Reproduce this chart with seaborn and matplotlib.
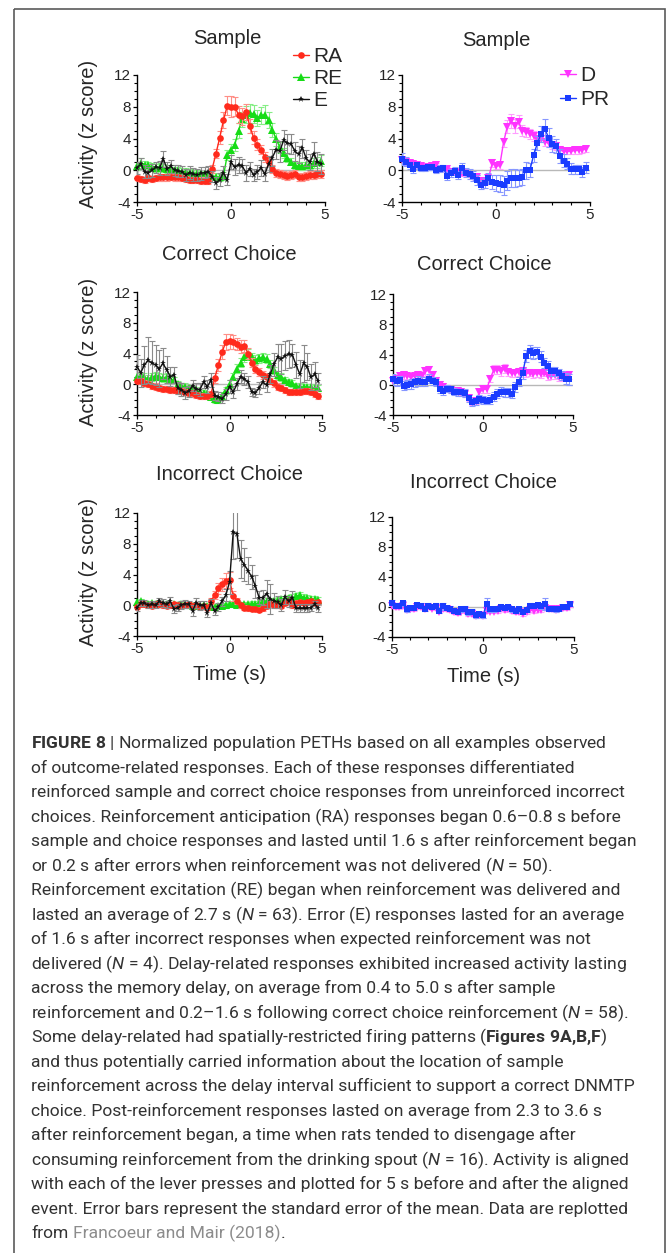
import numpy as np
import matplotlib
matplotlib.use("Agg")
import matplotlib.pyplot as plt
from matplotlib import font_manager
from matplotlib.lines import Line2D
from matplotlib.patches import Rectangle
from matplotlib.ticker import MultipleLocator
from matplotlib.transforms import Affine2D
import seaborn as sns

# ---------------------------------------------------------------- data
time_s = [-5.0, -4.8, -4.6, -4.4, -4.2, -4.0, -3.8, -3.6, -3.4, -3.2,
          -3.0, -2.8, -2.6, -2.4, -2.2, -2.0, -1.8, -1.6, -1.4, -1.2,
          -1.0, -0.8, -0.6, -0.4, -0.2, 0.0, 0.2, 0.4, 0.6, 0.8,
          1.0, 1.2, 1.4, 1.6, 1.8, 2.0, 2.2, 2.4, 2.6, 2.8,
          3.0, 3.2, 3.4, 3.6, 3.8, 4.0, 4.2, 4.4, 4.6, 4.8]

# Sample lever press -- outcome-related populations
sample_ra_mean = [-1.0, -1.1, -1.2, -1.0, -1.1, -1.0, -0.9, -0.9, -0.9, -0.8,
                  -0.9, -0.9, -1.0, -1.1, -1.2, -1.2, -1.2, -1.3, -1.3, -1.3,
                  0.2, 2.1, 4.1, 6.3, 8.1, 8.0, 8.0, 7.0, 6.8, 7.3,
                  5.6, 4.1, 3.2, 2.6, 1.7, 1.0, 0.2, -0.4, -0.5, -0.6,
                  -0.7, -0.6, -0.5, -0.9, -0.8, -0.7, -0.6, -0.6, -0.5, -0.5]
sample_ra_sem = [0.4, 0.4, 0.4, 0.4, 0.4, 0.4, 0.4, 0.4, 0.4, 0.4,
                 0.4, 0.4, 0.4, 0.4, 0.4, 0.4, 0.4, 0.4, 0.4, 0.4,
                 0.5, 0.6, 0.8, 1.0, 1.2, 1.3, 1.2, 1.1, 1.1, 1.0,
                 0.9, 0.8, 0.7, 0.6, 0.6, 0.5, 0.5, 0.5, 0.5, 0.5,
                 0.5, 0.5, 0.5, 0.5, 0.5, 0.5, 0.5, 0.5, 0.5, 0.5]
sample_re_mean = [0.5, 0.9, 0.7, 0.6, 0.4, 0.3, 0.4, 0.3, 0.2, 0.1,
                  0.0, 0.0, -0.2, -0.2, -0.3, -0.4, -0.4, -0.5, -0.5, -0.6,
                  -0.7, -0.8, -0.9, -0.7, 1.9, 2.6, 3.2, 5.0, 6.4, 7.0,
                  7.2, 7.1, 6.6, 6.9, 7.0, 6.3, 5.1, 3.9, 2.9, 2.2,
                  1.6, 1.1, 0.6, 0.5, 0.5, 0.6, 0.7, 0.9, 1.0, 1.2]
sample_re_sem = [0.5, 0.6, 0.5, 0.5, 0.5, 0.5, 0.5, 0.5, 0.5, 0.5,
                 0.45, 0.45, 0.45, 0.45, 0.45, 0.45, 0.45, 0.45, 0.45, 0.45,
                 0.4, 0.4, 0.4, 0.5, 0.6, 0.7, 0.8, 0.9, 1.0, 1.1,
                 1.2, 1.1, 1.0, 1.1, 1.2, 1.0, 0.9, 0.8, 0.7, 0.6,
                 0.6, 0.5, 0.5, 0.5, 0.5, 0.5, 0.5, 0.6, 0.7, 0.7]
sample_e_mean = [0.3, 0.8, -0.2, -0.3, 0.0, 0.4, 0.3, 1.4, 0.2, 0.5,
                 0.0, -0.1, -0.2, -0.6, -0.3, -0.5, -0.6, -0.4, -0.3, -0.2,
                 -0.8, -1.6, -1.2, -0.3, -1.2, 1.0, 0.4, 0.7, 0.5, -0.3,
                 0.2, -0.6, -0.2, 0.3, -0.5, 0.8, 1.6, 2.6, 2.4, 3.8,
                 3.4, 3.3, 2.4, 2.0, 2.8, 1.5, 1.0, 2.1, 1.1, 0.8]
sample_e_sem = [0.8, 0.7, 0.8, 0.7, 0.8, 0.7, 0.9, 1.0, 0.8, 0.8,
                0.7, 0.8, 0.7, 0.8, 0.8, 0.8, 0.7, 0.8, 0.7, 0.7,
                0.7, 0.8, 0.8, 0.8, 0.7, 0.9, 1.0, 1.0, 0.9, 1.0,
                0.9, 0.8, 0.9, 1.0, 0.9, 1.0, 1.1, 1.2, 1.3, 1.3,
                1.2, 1.3, 1.2, 1.1, 1.2, 1.0, 1.0, 1.5, 1.2, 1.3]

# Sample lever press -- delay and post-reinforcement populations
sample_d_mean = [1.3, 1.0, 0.9, 0.8, 0.7, 0.5, 0.3, 0.4, 0.5, 0.6,
                 0.2, 0.2, 0.1, -0.2, -0.2, -0.3, -0.4, -0.4, -0.6, -0.8,
                 -0.9, -1.3, -1.4, -1.0, 0.9, 0.5, 0.6, 3.5, 5.5, 6.2,
                 5.6, 6.1, 5.0, 4.8, 4.6, 4.3, 4.0, 4.0, 3.6, 3.4,
                 3.2, 3.0, 2.6, 2.4, 2.4, 2.4, 2.5, 2.5, 2.6, 2.7]
sample_d_sem = [0.5, 0.4, 0.4, 0.4, 0.4, 0.3, 0.3, 0.3, 0.3, 0.3,
                0.3, 0.3, 0.3, 0.3, 0.3, 0.3, 0.3, 0.3, 0.3, 0.3,
                0.3, 0.4, 0.4, 0.4, 0.5, 0.4, 0.4, 0.6, 0.8, 0.9,
                0.9, 0.8, 0.7, 0.6, 0.6, 0.6, 0.5, 0.5, 0.5, 0.5,
                0.5, 0.5, 0.5, 0.4, 0.4, 0.4, 0.4, 0.4, 0.4, 0.4]
sample_pr_mean = [1.4, 1.1, 0.6, 0.2, 0.6, 0.3, 0.3, 0.4, 0.4, 0.0,
                  0.2, 0.3, -0.7, -0.3, -0.1, -0.6, 0.3, -0.3, -0.5, -0.7,
                  -1.2, -1.8, -1.6, -1.0, -1.5, -1.6, -1.7, -1.9, -1.3, -1.0,
                  -1.0, -1.0, -0.9, 0.0, 0.0, 1.9, 3.4, 4.6, 5.2, 4.1,
                  3.3, 3.1, 1.8, 1.2, 0.8, 0.2, 0.1, 0.1, -0.2, 0.3]
sample_pr_sem = [0.8, 0.6, 0.5, 0.5, 0.5, 0.4, 0.4, 0.4, 0.4, 0.4,
                 0.4, 0.4, 0.5, 0.5, 0.5, 0.5, 0.6, 0.6, 0.6, 0.6,
                 0.6, 0.6, 0.6, 0.7, 0.9, 1.0, 1.1, 1.2, 1.2, 1.1,
                 1.1, 1.0, 1.0, 1.1, 0.9, 0.8, 0.9, 1.0, 1.2, 1.2,
                 1.0, 0.9, 0.9, 0.8, 0.7, 0.7, 0.6, 0.6, 0.6, 0.7]

# Correct choice lever press -- outcome-related populations
correct_ra_mean = [0.4, 0.4, 0.2, 0.0, -0.2, -0.3, -0.5, -0.6, -0.6, -0.7,
                   -0.8, -0.9, -0.9, -1.0, -1.1, -1.2, -1.4, -1.5, -1.5, -1.5,
                   -1.3, 0.8, 2.5, 4.2, 5.5, 5.6, 5.5, 5.2, 4.9, 5.0,
                   4.0, 2.8, 2.0, 1.6, 1.2, 0.9, 0.4, 0.1, -0.3, -0.5,
                   -0.8, -1.0, -1.0, -1.0, -1.0, -0.9, -0.9, -1.0, -1.3, -1.5]
correct_ra_sem = [0.4, 0.4, 0.4, 0.4, 0.4, 0.4, 0.4, 0.4, 0.4, 0.4,
                  0.4, 0.4, 0.4, 0.4, 0.4, 0.4, 0.4, 0.4, 0.4, 0.4,
                  0.4, 0.6, 0.8, 0.9, 1.0, 1.0, 0.9, 0.8, 0.8, 0.8,
                  0.7, 0.6, 0.5, 0.5, 0.5, 0.5, 0.4, 0.4, 0.4, 0.4,
                  0.4, 0.4, 0.4, 0.4, 0.4, 0.4, 0.4, 0.4, 0.4, 0.4]
correct_re_mean = [1.0, 1.0, 0.9, 0.7, 0.9, 1.1, 1.0, 0.8, 0.9, 0.7,
                   0.5, 0.0, -0.2, -0.3, -0.5, -0.6, -0.8, -1.1, -1.1, -1.3,
                   -1.6, -1.9, -2.0, -1.5, -0.8, 0.0, 1.0, 2.0, 2.8, 3.5,
                   4.0, 3.5, 3.2, 3.4, 3.5, 3.3, 2.6, 1.8, 1.2, 0.9,
                   0.6, 0.3, 0.1, -0.2, -0.3, -0.4, -0.4, -0.4, -0.5, -0.5]
correct_re_sem = [0.5, 0.5, 0.5, 0.5, 0.5, 0.5, 0.5, 0.5, 0.5, 0.5,
                  0.4, 0.4, 0.4, 0.4, 0.4, 0.4, 0.4, 0.4, 0.4, 0.4,
                  0.4, 0.5, 0.5, 0.5, 0.5, 0.5, 0.5, 0.6, 0.6, 0.6,
                  0.6, 0.6, 0.6, 0.6, 0.6, 0.6, 0.5, 0.5, 0.5, 0.5,
                  0.4, 0.4, 0.4, 0.4, 0.4, 0.4, 0.4, 0.4, 0.4, 0.4]
correct_e_mean = [2.3, 1.5, 2.5, 3.1, 2.8, 2.5, 2.0, 2.7, 1.9, 1.0,
                  1.2, -0.5, -0.7, -1.1, -0.9, -0.2, -0.6, -0.7, 0.3, -0.3,
                  0.5, -1.5, -1.6, -1.9, -1.3, -0.3, -1.0, 0.0, 1.0, 0.7,
                  0.3, -1.0, -1.1, -0.5, 0.3, -0.1, 1.3, 2.6, 3.5, 3.3,
                  3.7, 3.9, 3.8, 2.5, 1.3, 2.7, 2.3, 0.9, 1.3, 0.4]
correct_e_sem = [1.5, 1.8, 2.5, 3.0, 2.8, 2.6, 2.4, 2.0, 1.8, 1.2,
                 1.0, 0.8, 0.8, 0.8, 0.7, 0.7, 0.7, 0.8, 0.8, 0.8,
                 0.9, 0.6, 0.6, 0.6, 0.7, 0.8, 0.8, 0.8, 0.9, 0.8,
                 0.8, 0.5, 0.5, 0.8, 0.8, 0.9, 1.2, 1.5, 1.8, 2.0,
                 1.9, 1.8, 1.5, 1.7, 1.8, 2.4, 1.8, 1.7, 1.6, 1.1]

# Correct choice lever press -- delay and post-reinforcement populations
correct_d_mean = [0.5, 0.8, 1.1, 1.3, 1.1, 1.0, 1.2, 1.3, 1.2, 1.8,
                  1.9, 1.3, 0.5, 0.0, -0.3, -0.5, -0.7, -0.8, -0.8, -0.9,
                  -1.2, -1.8, -2.3, -2.2, -1.0, -0.6, -0.6, 0.8, 2.0, 2.0,
                  1.8, 2.1, 1.7, 1.5, 1.5, 1.7, 1.8, 1.5, 1.6, 1.4,
                  1.5, 1.4, 1.6, 1.1, 1.2, 1.3, 1.0, 1.0, 1.2, 1.3]
correct_d_sem = [0.5, 0.5, 0.5, 0.5, 0.5, 0.5, 0.5, 0.5, 0.6, 0.6,
                 0.6, 0.5, 0.5, 0.5, 0.5, 0.4, 0.4, 0.4, 0.4, 0.4,
                 0.4, 0.4, 0.4, 0.4, 0.5, 0.5, 0.5, 0.5, 0.6, 0.6,
                 0.6, 0.6, 0.5, 0.5, 0.5, 0.5, 0.5, 0.5, 0.5, 0.5,
                 0.5, 0.5, 0.5, 0.5, 0.5, 0.5, 0.5, 0.5, 0.5, 0.5]
correct_pr_mean = [0.7, 0.5, 0.6, -0.1, 0.0, 0.1, 0.3, 0.5, 0.4, 0.4,
                   0.8, 0.5, 0.3, -0.6, -0.8, -0.5, -0.6, -0.9, -1.0, -1.0,
                   -1.1, -1.8, -2.3, -2.2, -1.9, -2.0, -2.1, -2.0, -1.6, -1.2,
                   -0.9, -1.0, -1.0, -1.2, -0.3, 0.4, 1.5, 3.8, 4.4, 4.2,
                   4.3, 3.7, 2.9, 2.5, 1.8, 1.8, 1.5, 1.2, 0.8, 0.7]
correct_pr_sem = [0.7, 0.6, 0.6, 0.6, 0.6, 0.6, 0.6, 0.6, 0.6, 0.6,
                  0.6, 0.5, 0.5, 0.5, 0.5, 0.5, 0.5, 0.5, 0.5, 0.5,
                  0.5, 0.5, 0.5, 0.5, 0.5, 0.5, 0.5, 0.6, 0.6, 0.6,
                  0.6, 0.6, 0.6, 0.6, 0.6, 0.6, 0.7, 0.8, 0.8, 0.8,
                  0.7, 0.7, 0.7, 0.6, 0.6, 0.6, 0.6, 0.6, 0.7, 0.7]

# Incorrect choice lever press -- outcome-related populations
incorrect_ra_mean = [-0.2, 0.2, 0.1, 0.0, -0.1, 0.1, 0.2, 0.0, -0.1, 0.0,
                     0.1, 0.0, -0.1, 0.0, 0.1, -0.1, 0.0, -0.2, -0.1, -0.3,
                     0.6, 1.3, 2.2, 2.7, 3.2, 3.3, 1.2, 0.6, 0.0, -0.3,
                     -0.4, -0.5, -0.5, -0.6, -0.4, -0.1, 0.2, 0.0, 0.0, -0.1,
                     0.3, 0.5, 0.0, 0.3, 0.4, 0.3, 0.4, 0.5, 0.3, 0.4]
incorrect_ra_sem = [0.3, 0.3, 0.3, 0.3, 0.3, 0.3, 0.3, 0.3, 0.3, 0.3,
                    0.3, 0.3, 0.3, 0.3, 0.3, 0.3, 0.3, 0.3, 0.3, 0.3,
                    0.4, 0.5, 0.7, 0.9, 1.0, 1.0, 0.6, 0.4, 0.3, 0.3,
                    0.3, 0.3, 0.3, 0.3, 0.3, 0.3, 0.3, 0.3, 0.3, 0.3,
                    0.3, 0.3, 0.3, 0.3, 0.3, 0.3, 0.3, 0.3, 0.3, 0.3]
incorrect_re_mean = [0.4, 0.5, 0.3, 0.2, 0.3, 0.2, 0.2, 0.1, 0.2, 0.1,
                     0.1, 0.0, 0.1, 0.0, 0.0, -0.1, 0.0, -0.1, 0.0, -0.1,
                     -0.2, -0.2, -0.1, -0.1, 0.0, 0.1, 0.1, 0.0, 0.0, 0.1,
                     0.1, 0.2, 0.2, 0.3, 0.4, 0.5, 0.5, 0.6, 0.7, 0.8,
                     0.8, 0.9, 1.0, 1.2, 1.3, 1.0, 0.9, 0.8, 0.8, 0.7]
incorrect_re_sem = [0.3, 0.3, 0.3, 0.3, 0.3, 0.3, 0.3, 0.3, 0.3, 0.3,
                    0.3, 0.3, 0.3, 0.3, 0.3, 0.3, 0.3, 0.3, 0.3, 0.3,
                    0.3, 0.3, 0.3, 0.3, 0.3, 0.3, 0.3, 0.3, 0.3, 0.3,
                    0.3, 0.3, 0.3, 0.3, 0.3, 0.4, 0.4, 0.4, 0.4, 0.4,
                    0.4, 0.4, 0.4, 0.4, 0.4, 0.4, 0.4, 0.4, 0.4, 0.4]
incorrect_e_mean = [-0.3, 0.3, 0.3, 0.0, 0.1, 0.0, 0.5, 0.3, 0.1, 0.5,
                    -0.5, -0.3, 0.0, 0.2, 0.1, -0.7, 0.3, 0.0, 0.0, -1.0,
                    0.3, -0.8, -0.2, 0.5, 1.3, 3.0, 9.5, 9.3, 6.0, 5.3,
                    4.5, 3.7, 2.5, 1.0, 1.0, 1.5, 0.8, 0.6, 0.4, 0.0,
                    1.1, 0.5, 1.0, -0.4, -0.4, -0.4, -0.4, -0.3, 0.1, -0.4]
incorrect_e_sem = [0.4, 0.4, 0.4, 0.4, 0.4, 0.4, 0.5, 0.5, 0.4, 0.6,
                   0.5, 0.5, 0.5, 0.5, 0.5, 0.7, 0.6, 0.6, 0.5, 0.5,
                   0.5, 0.5, 0.5, 0.6, 0.8, 1.5, 3.5, 3.2, 2.5, 2.2,
                   1.8, 1.6, 1.5, 0.9, 1.0, 1.8, 2.0, 1.0, 0.8, 0.8,
                   0.9, 0.7, 0.8, 0.5, 0.5, 0.5, 0.5, 0.5, 0.5, 0.5]

# Incorrect choice lever press -- delay and post-reinforcement populations
incorrect_d_mean = [0.2, 0.0, 0.0, 0.2, -0.4, -0.3, -0.3, 0.0, 0.0, -0.3,
                    0.0, -0.2, -0.1, -0.6, -0.2, -0.3, -0.4, -0.7, -0.8, -0.6,
                    -0.5, -0.9, -0.9, -1.2, -1.1, -1.2, -0.5, -0.6, -0.6, -0.5,
                    -0.3, -0.4, -0.3, -0.5, -0.7, -0.6, -0.9, -0.7, -0.4, -0.5,
                    -0.4, -0.4, -0.1, -0.3, -0.3, -0.4, -0.2, -0.1, -0.1, 0.3]
incorrect_d_sem = [0.3, 0.25, 0.25, 0.25, 0.25, 0.25, 0.25, 0.25, 0.25, 0.25,
                   0.25, 0.25, 0.25, 0.25, 0.3, 0.25, 0.25, 0.25, 0.25, 0.25,
                   0.25, 0.25, 0.25, 0.25, 0.25, 0.25, 0.3, 0.25, 0.25, 0.25,
                   0.25, 0.25, 0.25, 0.25, 0.25, 0.25, 0.25, 0.25, 0.25, 0.25,
                   0.25, 0.25, 0.3, 0.25, 0.25, 0.25, 0.25, 0.25, 0.25, 0.25]
incorrect_pr_mean = [0.5, 0.2, 0.2, 0.5, -0.3, -0.1, -0.1, 0.3, 0.2, -0.2,
                     0.2, 0.0, 0.2, -0.5, 0.1, -0.1, -0.2, -0.5, -0.6, -0.3,
                     -0.2, -0.7, -0.6, -1.1, -0.9, -1.1, 0.4, -0.3, -0.3, -0.2,
                     0.0, -0.1, 0.0, -0.3, -0.5, -0.3, -0.6, -0.4, 0.2, 0.2,
                     0.3, 0.1, 0.4, -0.2, -0.2, -0.3, -0.2, 0.0, 0.0, 0.4]
incorrect_pr_sem = [0.5, 0.3, 0.3, 0.3, 0.3, 0.3, 0.3, 0.3, 0.3, 0.3,
                    0.3, 0.3, 0.3, 0.3, 0.5, 0.3, 0.3, 0.3, 0.3, 0.3,
                    0.3, 0.3, 0.3, 0.3, 0.3, 0.3, 0.8, 0.3, 0.3, 0.3,
                    0.3, 0.3, 0.3, 0.3, 0.3, 0.3, 0.3, 0.3, 0.3, 0.3,
                    0.3, 0.3, 0.8, 0.3, 0.3, 0.3, 0.3, 0.3, 0.3, 0.3]

panel_titles = ["Sample", "Sample", "Correct Choice", "Correct Choice",
                "Incorrect Choice", "Incorrect Choice"]
y_label = "Activity (z score)"
x_label = "Time (s)"
x_ticks = [-5, 0, 5]
y_ticks = [-4, 0, 4, 8, 12]

EN_DASH = "\u2013"
ITAL_N = r"$\mathit{N}$"
caption_lines = [
    r"$\mathbf{FIGURE\ 8}$ | Normalized population PETHs based on all examples observed",
    "of outcome-related responses. Each of these responses differentiated",
    "reinforced sample and correct choice responses from unreinforced incorrect",
    "choices. Reinforcement anticipation (RA) responses began 0.6" + EN_DASH + "0.8 s before",
    "sample and choice responses and lasted until 1.6 s after reinforcement began",
    "or 0.2 s after errors when reinforcement was not delivered (" + ITAL_N + " = 50).",
    "Reinforcement excitation (RE) began when reinforcement was delivered and",
    "lasted an average of 2.7 s (" + ITAL_N + " = 63). Error (E) responses lasted for an average",
    "of 1.6 s after incorrect responses when expected reinforcement was not",
    "delivered (" + ITAL_N + " = 4). Delay-related responses exhibited increased activity lasting",
    "across the memory delay, on average from 0.4 to 5.0 s after sample",
    "reinforcement and 0.2" + EN_DASH + "1.6 s following correct choice reinforcement (" + ITAL_N + " = 58).",
    r"Some delay-related had spatially-restricted firing patterns ($\mathbf{Figures\ 9A{,}B{,}F}$)",
    "and thus potentially carried information about the location of sample",
    "reinforcement across the delay interval sufficient to support a correct DNMTP",
    "choice. Post-reinforcement responses lasted on average from 2.3 to 3.6 s",
    "after reinforcement began, a time when rats tended to disengage after",
    "consuming reinforcement from the drinking spout (" + ITAL_N + " = 16). Activity is aligned",
    "with each of the lever presses and plotted for 5 s before and after the aligned",
    "event. Error bars represent the standard error of the mean. Data are replotted",
]
caption_last_lead = "from"
caption_last_ref = "Francoeur and Mair (2018)"
caption_last_tail = "."

# ---------------------------------------------------------------- style
sns.set_style("ticks")
plt.rcParams["font.family"] = ["Liberation Sans", "DejaVu Sans"]
plt.rcParams["axes.unicode_minus"] = False

installed = {f.name for f in font_manager.fontManager.ttflist}
if "Liberation Sans Narrow" in installed:
    cap_family = "Liberation Sans Narrow"
elif "Roboto" in installed:
    cap_family = "Roboto"
else:
    cap_family = "Liberation Sans"
plt.rcParams["mathtext.fontset"] = "custom"
plt.rcParams["mathtext.rm"] = cap_family
plt.rcParams["mathtext.it"] = cap_family + ":italic"
plt.rcParams["mathtext.bf"] = cap_family + ":bold"

STYLE = {
    "RA": dict(color="#ff2a1c", err="#ff8e86", marker="o", ms=4.8),
    "RE": dict(color="#16dc16", err="#86ee86", marker="^", ms=5.2),
    "E": dict(color="#111111", err="#8a8a8a", marker="*", ms=5.0),
    "D": dict(color="#ff33ff", err="#ff9dff", marker="v", ms=5.2),
    "PR": dict(color="#1a3cff", err="#8797ff", marker="s", ms=4.8),
}

W, H = 668, 1253
fig = plt.figure(figsize=(W / 100, H / 100), dpi=100)
fig.patch.set_facecolor("white")
px = Affine2D().scale(1.0 / W, -1.0 / H).translate(0, 1) + fig.transFigure


def add_panel(left, top, right, bottom):
    return fig.add_axes([left / W, 1 - bottom / H, (right - left) / W, (bottom - top) / H])


def style_panel(ax):
    ax.set_xlim(-5, 5)
    ax.set_ylim(-4, 12)
    ax.set_xticks(x_ticks)
    ax.set_yticks(y_ticks)
    ax.xaxis.set_minor_locator(MultipleLocator(1))
    ax.yaxis.set_minor_locator(MultipleLocator(1))
    ax.tick_params(which="major", length=3.2, width=0.9, labelsize=11, pad=1.2, color="black")
    ax.tick_params(which="minor", length=2.0, width=0.8, color="black")
    sns.despine(ax=ax)
    for side in ("left", "bottom"):
        ax.spines[side].set_linewidth(1.0)
        ax.spines[side].set_color("black")
    ax.axhline(0, color="#b8b8b8", lw=1.0, zorder=0)
    ax.set_xlabel("")
    ax.set_ylabel("")
    ax.set_facecolor("white")


def draw_series(ax, key, mean, sem, z):
    st = STYLE[key]
    ax.errorbar(time_s, mean, yerr=sem, fmt="none", ecolor=st["err"],
                elinewidth=0.8, capsize=2.0, capthick=0.8, zorder=z)
    sns.lineplot(x=time_s, y=mean, ax=ax, color=st["color"], marker=st["marker"],
                 markersize=st["ms"], markeredgewidth=0, linewidth=1.0,
                 errorbar=None, legend=False, zorder=z + 0.5)
    ax.lines[-1].set_clip_on(False)


panels = [
    dict(rect=(137, 75, 325, 202), title=(panel_titles[0], 227, 38),
         series=[("RE", sample_re_mean, sample_re_sem), ("RA", sample_ra_mean, sample_ra_sem),
                 ("E", sample_e_mean, sample_e_sem)], ylab=134, xlab=None),
    dict(rect=(402, 75, 590, 202), title=(panel_titles[1], 496, 40),
         series=[("D", sample_d_mean, sample_d_sem), ("PR", sample_pr_mean, sample_pr_sem)],
         ylab=None, xlab=None),
    dict(rect=(137, 292, 322, 415), title=(panel_titles[2], 229, 255),
         series=[("RE", correct_re_mean, correct_re_sem), ("RA", correct_ra_mean, correct_ra_sem),
                 ("E", correct_e_mean, correct_e_sem)], ylab=352, xlab=None),
    dict(rect=(393, 294, 573, 415), title=(panel_titles[3], 484, 265),
         series=[("D", correct_d_mean, correct_d_sem), ("PR", correct_pr_mean, correct_pr_sem)],
         ylab=None, xlab=None),
    dict(rect=(137, 513, 322, 636), title=(panel_titles[4], 230, 475),
         series=[("RE", incorrect_re_mean, incorrect_re_sem), ("RA", incorrect_ra_mean, incorrect_ra_sem),
                 ("E", incorrect_e_mean, incorrect_e_sem)], ylab=572, xlab=(230, 675)),
    dict(rect=(392, 517, 574, 637), title=(panel_titles[5], 483, 482),
         series=[("D", incorrect_d_mean, incorrect_d_sem), ("PR", incorrect_pr_mean, incorrect_pr_sem)],
         ylab=None, xlab=(484, 677)),
]

axes = []
for p in panels:
    ax = add_panel(*p["rect"])
    style_panel(ax)
    for i, (key, mean, sem) in enumerate(p["series"]):
        draw_series(ax, key, mean, sem, 3 + 2 * i)
    t, tx, ty = p["title"]
    fig.text(tx, ty, t, transform=px, ha="center", va="center", fontsize=14.5)
    if p["ylab"] is not None:
        fig.text(89, p["ylab"], y_label, transform=px, rotation=90,
                 ha="center", va="center", fontsize=14.5)
    if p["xlab"] is not None:
        fig.text(p["xlab"][0], p["xlab"][1], x_label, transform=px,
                 ha="center", va="center", fontsize=14.5)
    axes.append(ax)


def legend_handle(key):
    st = STYLE[key]
    return Line2D([0], [0], color=st["color"], marker=st["marker"], markersize=st["ms"],
                  markeredgewidth=0, linewidth=1.0)


for ax, keys, (lx, ly), spacing in [(axes[0], ["RA", "RE", "E"], (293, 47), 0.15),
                                    (axes[1], ["D", "PR"], (560, 66), 0.25)]:
    ax.legend([legend_handle(k) for k in keys], keys, loc="upper left",
              bbox_to_anchor=(lx / W, 1 - ly / H), bbox_transform=fig.transFigure,
              frameon=False, borderpad=0, borderaxespad=0, handlelength=0.75,
              handletextpad=0.2, labelspacing=spacing, fontsize=15)

# ---------------------------------------------------------------- caption
renderer = fig.canvas.get_renderer()
CAP_COLOR = "#333333"
REF_COLOR = "#8c8c8c"
CAP_LEFT = 31
CAP_WIDTH = 604
CAP_TOP = 742
CAP_STEP = 24.5


def text_width(s, size):
    t = fig.text(0, 0, s, fontsize=size, family=cap_family)
    w = t.get_window_extent(renderer).width
    t.remove()
    return w


widest = max(text_width(s, 10) for s in caption_lines)
cap_size = 10 * CAP_WIDTH / widest
em_px = cap_size * 100 / 72
for i, line in enumerate(caption_lines):
    yb = CAP_TOP + i * CAP_STEP + 0.36 * em_px
    fig.text(CAP_LEFT, yb, line, transform=px, fontsize=cap_size, family=cap_family,
             color=CAP_COLOR, va="baseline", ha="left")

# last line: plain lead-in, grey reference, closing period
yb = CAP_TOP + len(caption_lines) * CAP_STEP + 0.36 * em_px
full = caption_last_lead + " " + caption_last_ref + caption_last_tail
w_full = text_width(full, cap_size)
x_ref = CAP_LEFT + w_full - text_width(caption_last_ref + caption_last_tail, cap_size)
x_tail = CAP_LEFT + w_full - text_width(caption_last_tail, cap_size)
for s, x, c in [(caption_last_lead, CAP_LEFT, CAP_COLOR),
                (caption_last_ref, x_ref, REF_COLOR),
                (caption_last_tail, x_tail, CAP_COLOR)]:
    fig.text(x, yb, s, transform=px, fontsize=cap_size, family=cap_family,
             color=c, va="baseline", ha="left")

# frame around the figure block
fig.add_artist(Rectangle((14, 9), 651, 1260, transform=px, fill=False,
                         edgecolor="#5a5a5a", linewidth=1.2, clip_on=False))

fig.savefig("out.png", dpi=100, facecolor="white")
